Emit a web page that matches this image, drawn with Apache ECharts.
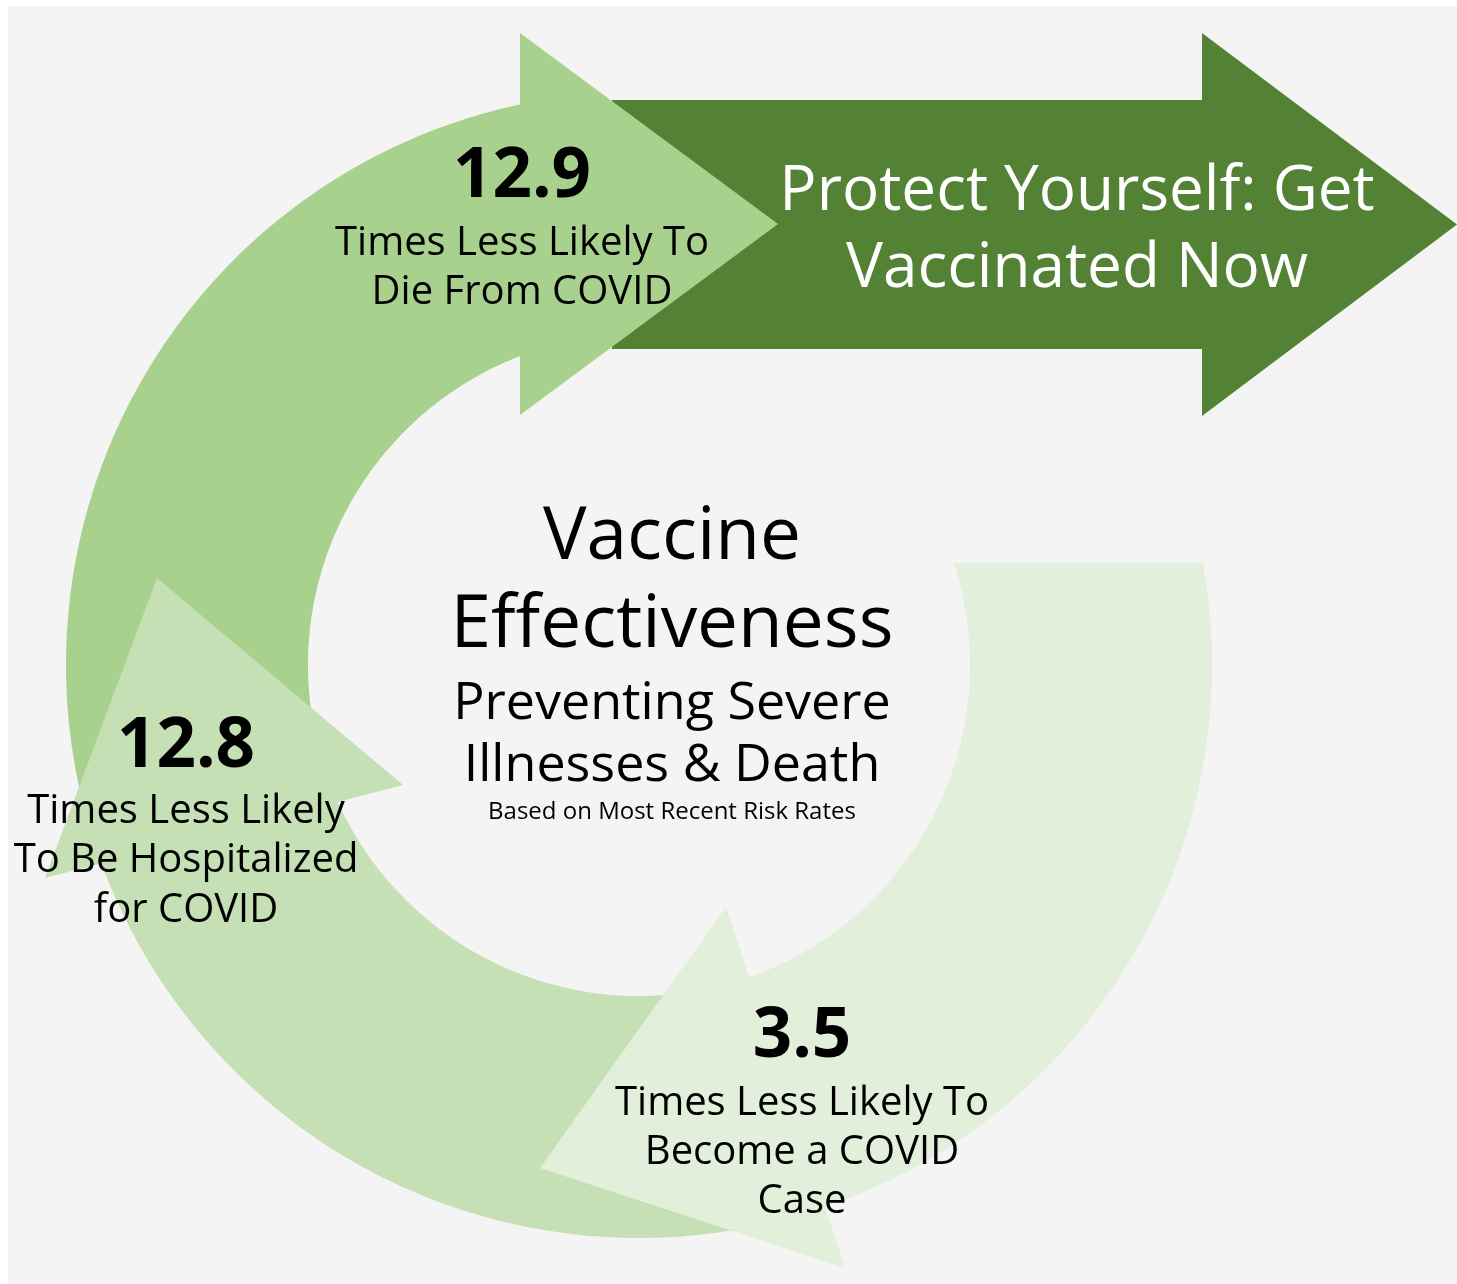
<!DOCTYPE html>
<html>
<head>
<meta charset="utf-8">
<script src="https://cdn.jsdelivr.net/npm/echarts@6/dist/echarts.min.js"></script>
<style>
html,body{margin:0;padding:0;background:#ffffff;}
#chart{position:absolute;left:8px;top:6px;width:1449px;height:1278px;}
</style>
</head>
<body>
<div id="chart"></div>
<script>
// ---------------- data ----------------
const statValues = [12.9, 12.8, 3.5];
const statCaptions = [
  ['Times Less Likely To', 'Die From COVID'],
  ['Times Less Likely', 'To Be Hospitalized', 'for COVID'],
  ['Times Less Likely To', 'Become a COVID', 'Case']
];
const centerTitle = ['Vaccine', 'Effectiveness'];
const centerSubtitle = ['Preventing Severe', 'Illnesses & Death'];
const centerNote = ['Based on Most Recent Risk Rates'];
const calloutLines = ['Protect Yourself: Get', 'Vaccinated Now'];

// ---------------- layout ----------------
const X0 = 8, Y0 = 6, W = 1457, H = 1284;
const FONT = '"Open Sans", "Noto Sans", sans-serif';
const ring = { cx: 639, cy: 665, rIn: 331, rOut: 573 };
const arrowColors = ['#a9d18e', '#c5e0b4', '#e2efda'];
const heads = [
  { bIn: [520, 415], bOut: [520, 33], tip: [778, 224] },
  { bIn: [403, 785], bOut: [45, 878], tip: [157, 578] },
  { bIn: [726, 907], bOut: [845, 1268], tip: [540, 1168] }
];
const firstCut = [[900, 563], [1300, 563]];
const labelLayout = [
  { x: 522, numBase: 200, capBase: [257, 306] },
  { x: 186, numBase: 770, capBase: [825, 874, 924] },
  { x: 802, numBase: 1060, capBase: [1117, 1166, 1215] }
];
const numFont = 69, capFont = 40;
const callout = { x0: 612, x1: 1202, yTop: 100, yBot: 349, headTop: 33, headBot: 416, tipX: 1457, color: '#548235',
  textX: 1077, textBase: [213, 290], fontSize: 62 };
const centerLayout = { x: 672, titleBase: [562, 650], titleFont: 73, subBase: [721, 783], subFont: 52, noteBase: [820], noteFont: 24 };
const MID = 0.33; // baseline -> middle offset (em)

// ---------------- geometry helpers ----------------
function lineCircle(p, q, r) {
  const dx = q[0] - p[0], dy = q[1] - p[1];
  const fx = p[0] - ring.cx, fy = p[1] - ring.cy;
  const a = dx * dx + dy * dy, b = 2 * (fx * dx + fy * dy), c = fx * fx + fy * fy - r * r;
  const disc = Math.sqrt(Math.max(0, b * b - 4 * a * c));
  const ts = [(-b - disc) / (2 * a), (-b + disc) / (2 * a)];
  let t = ts.find(v => v >= 0 && v <= 1);
  if (t === undefined) t = ts[1];
  return [p[0] + t * dx, p[1] + t * dy];
}
function polar(r, a) { return [ring.cx + r * Math.cos(a), ring.cy + r * Math.sin(a)]; }
function ang(p) { return Math.atan2(p[1] - ring.cy, p[0] - ring.cx); }

function arrowOutline(i) {
  const cut = i === heads.length - 1 ? firstCut : [heads[i + 1].bIn, heads[i + 1].bOut];
  const sIn = lineCircle(cut[0], cut[1], ring.rIn), sOut = lineCircle(cut[0], cut[1], ring.rOut);
  const h = heads[i];
  const hIn = lineCircle(h.bIn, h.bOut, ring.rIn), hOut = lineCircle(h.bIn, h.bOut, ring.rOut);
  const a0o = ang(sOut); let a1o = ang(hOut); while (a1o < a0o) a1o += 2 * Math.PI;
  const a0i = ang(sIn); let a1i = ang(hIn); while (a1i < a0i) a1i += 2 * Math.PI;
  const pts = [sIn, sOut];
  const N = 160;
  for (let k = 1; k < N; k++) pts.push(polar(ring.rOut, a0o + (a1o - a0o) * k / N));
  pts.push(hOut, h.bOut, h.tip, h.bIn, hIn);
  for (let k = N - 1; k > 0; k--) pts.push(polar(ring.rIn, a0i + (a1i - a0i) * k / N));
  return pts;
}

function textEl(api, x, base, str, size, weight, fill) {
  const p = api.coord([x, base - MID * size]);
  return {
    type: 'text', x: p[0], y: p[1],
    style: { text: str, fill: fill, fontFamily: FONT, fontSize: size, fontWeight: weight, align: 'center', verticalAlign: 'middle' }
  };
}

// ---------------- chart ----------------
const chart = echarts.init(document.getElementById('chart'), null, { renderer: 'canvas' });
chart.setOption({
  backgroundColor: '#f4f4f4',
  animation: false,
  grid: { left: 0, right: 0, top: 0, bottom: 0 },
  xAxis: { type: 'value', min: X0, max: W, show: false },
  yAxis: { type: 'value', min: Y0, max: H, inverse: true, show: false },
  series: [
    {
      name: 'callout', type: 'custom', z: 1, silent: true,
      data: [[0]],
      renderItem: function (params, api) {
        const c = callout;
        const pts = [[c.x0, c.yTop], [c.x1, c.yTop], [c.x1, c.headTop], [c.tipX, (c.headTop + c.headBot) / 2],
          [c.x1, c.headBot], [c.x1, c.yBot], [c.x0, c.yBot]].map(p => api.coord(p));
        const children = [{ type: 'polygon', shape: { points: pts }, style: { fill: c.color } }];
        calloutLines.forEach((t, k) => children.push(textEl(api, c.textX, c.textBase[k], t, c.fontSize, 'normal', '#ffffff')));
        return { type: 'group', children: children };
      }
    },
    {
      name: 'arrows', type: 'custom', z: 2, silent: true,
      data: statValues.map((v, i) => [i, v]),
      renderItem: function (params, api) {
        const i = api.value(0);
        const pts = arrowOutline(i).map(p => api.coord(p));
        return { type: 'polygon', shape: { points: pts }, style: { fill: arrowColors[i] } };
      }
    },
    {
      name: 'labels', type: 'custom', z: 3, silent: true,
      data: statValues.map((v, i) => [i, v]),
      renderItem: function (params, api) {
        const i = api.value(0);
        const L = labelLayout[i];
        const children = [textEl(api, L.x, L.numBase, String(api.value(1)), numFont, 'bold', '#000000')];
        statCaptions[i].forEach((t, k) => children.push(textEl(api, L.x, L.capBase[k], t, capFont, 'normal', '#000000')));
        return { type: 'group', children: children };
      }
    },
    {
      name: 'center', type: 'custom', z: 3, silent: true,
      data: [[0]],
      renderItem: function (params, api) {
        const c = centerLayout;
        const children = [];
        centerTitle.forEach((t, k) => children.push(textEl(api, c.x, c.titleBase[k], t, c.titleFont, 'normal', '#000000')));
        centerSubtitle.forEach((t, k) => children.push(textEl(api, c.x, c.subBase[k], t, c.subFont, 'normal', '#000000')));
        centerNote.forEach((t, k) => children.push(textEl(api, c.x, c.noteBase[k], t, c.noteFont, 'normal', '#000000')));
        return { type: 'group', children: children };
      }
    }
  ]
});
</script>
</body>
</html>
